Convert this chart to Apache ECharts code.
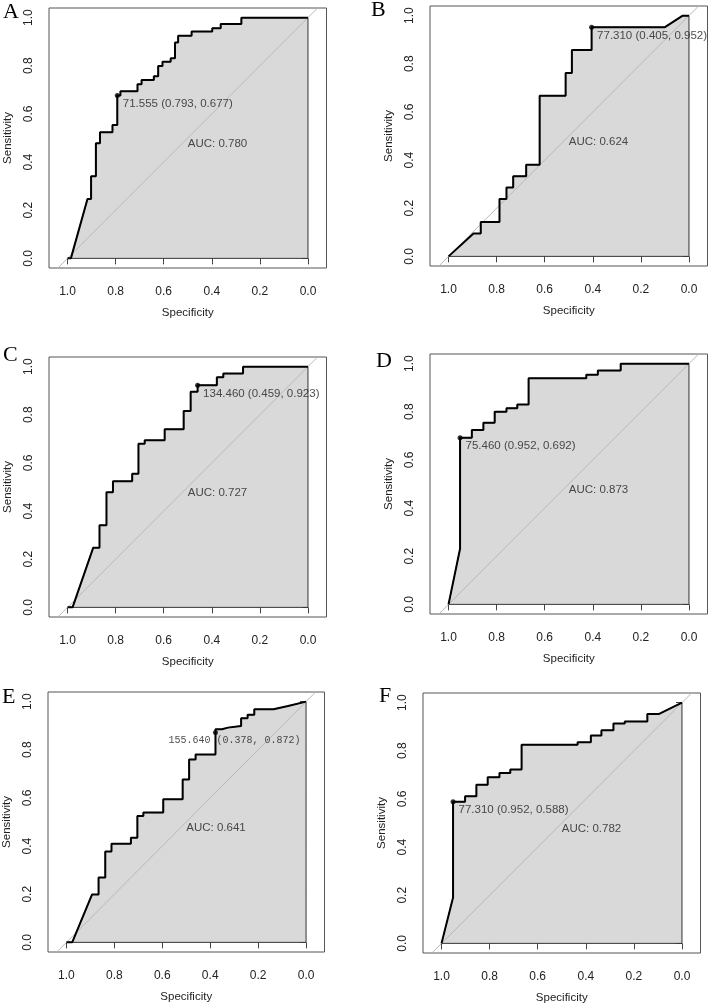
<!DOCTYPE html>
<html><head><meta charset="utf-8">
<script src="https://cdn.jsdelivr.net/npm/echarts@6/dist/echarts.min.js"></script>
<style>html,body{margin:0;padding:0;background:#fff}#c{width:709px;height:1005px}</style>
</head><body><div id="c"></div>
<script>
// ---------- data ----------
const panelLetters = ['A', 'B', 'C', 'D', 'E', 'F'];
const tickValues = [0, 0.2, 0.4, 0.6, 0.8, 1.0];

const specA = [1.0, 0.986, 0.917, 0.902, 0.902, 0.882, 0.882, 0.865, 0.865, 0.813, 0.813, 0.793, 0.793, 0.780, 0.780, 0.709, 0.709, 0.692, 0.692, 0.641, 0.641, 0.623, 0.623, 0.605, 0.605, 0.571, 0.571, 0.553, 0.553, 0.540, 0.540, 0.484, 0.484, 0.398, 0.398, 0.363, 0.363, 0.277, 0.277, 0.0];
const sensA = [0.0, 0.0, 0.247, 0.247, 0.341, 0.341, 0.478, 0.478, 0.524, 0.524, 0.554, 0.554, 0.677, 0.677, 0.694, 0.694, 0.723, 0.723, 0.741, 0.741, 0.756, 0.756, 0.799, 0.799, 0.817, 0.817, 0.831, 0.831, 0.897, 0.897, 0.925, 0.925, 0.942, 0.942, 0.956, 0.956, 0.974, 0.974, 1.0, 1.0];

const specB = [1.0, 0.896, 0.866, 0.866, 0.788, 0.788, 0.759, 0.759, 0.731, 0.731, 0.677, 0.677, 0.621, 0.621, 0.513, 0.513, 0.487, 0.487, 0.405, 0.405, 0.100, 0.026, 0.0];
const sensB = [0.0, 0.095, 0.095, 0.143, 0.143, 0.238, 0.238, 0.286, 0.286, 0.333, 0.333, 0.381, 0.381, 0.667, 0.667, 0.762, 0.762, 0.857, 0.857, 0.952, 0.952, 1.0, 1.0];

const specC = [1.0, 0.979, 0.893, 0.867, 0.867, 0.838, 0.838, 0.811, 0.811, 0.731, 0.731, 0.705, 0.705, 0.679, 0.679, 0.596, 0.596, 0.517, 0.517, 0.488, 0.488, 0.459, 0.459, 0.379, 0.379, 0.352, 0.352, 0.270, 0.270, 0.0];
const sensC = [0.0, 0.0, 0.248, 0.248, 0.341, 0.341, 0.478, 0.478, 0.524, 0.524, 0.555, 0.555, 0.680, 0.680, 0.694, 0.694, 0.740, 0.740, 0.816, 0.816, 0.896, 0.896, 0.923, 0.923, 0.956, 0.956, 0.971, 0.971, 1.0, 1.0];

const specD = [1.0, 0.952, 0.952, 0.903, 0.903, 0.855, 0.855, 0.808, 0.808, 0.759, 0.759, 0.714, 0.714, 0.667, 0.667, 0.427, 0.427, 0.379, 0.379, 0.284, 0.284, 0.0];
const sensD = [0.0, 0.231, 0.692, 0.692, 0.724, 0.724, 0.754, 0.754, 0.800, 0.800, 0.815, 0.815, 0.830, 0.830, 0.939, 0.939, 0.954, 0.954, 0.971, 0.971, 1.0, 1.0];

const specE = [1.0, 0.976, 0.893, 0.866, 0.866, 0.838, 0.838, 0.812, 0.812, 0.731, 0.731, 0.704, 0.704, 0.679, 0.679, 0.596, 0.596, 0.515, 0.515, 0.488, 0.488, 0.461, 0.461, 0.378, 0.378, 0.351, 0.351, 0.326, 0.326, 0.271, 0.271, 0.244, 0.244, 0.216, 0.216, 0.136, 0.136, 0.075, 0.0];
const sensE = [0.0, 0.0, 0.199, 0.199, 0.269, 0.269, 0.377, 0.377, 0.410, 0.410, 0.435, 0.435, 0.525, 0.525, 0.539, 0.539, 0.594, 0.594, 0.677, 0.677, 0.760, 0.760, 0.780, 0.780, 0.885, 0.885, 0.892, 0.892, 0.899, 0.899, 0.931, 0.931, 0.945, 0.945, 0.968, 0.968, 0.975, 0.982, 1.0];

const specF = [1.0, 0.952, 0.952, 0.902, 0.902, 0.855, 0.855, 0.808, 0.808, 0.759, 0.759, 0.714, 0.714, 0.667, 0.667, 0.434, 0.434, 0.379, 0.379, 0.335, 0.335, 0.285, 0.285, 0.238, 0.238, 0.144, 0.144, 0.095, 0.095, 0.0];
const sensF = [0.0, 0.191, 0.588, 0.588, 0.611, 0.611, 0.659, 0.659, 0.690, 0.690, 0.708, 0.708, 0.722, 0.722, 0.825, 0.825, 0.835, 0.835, 0.863, 0.863, 0.885, 0.885, 0.913, 0.913, 0.922, 0.922, 0.953, 0.953, 0.961, 1.0];

const thresholdSpec = [0.793, 0.405, 0.459, 0.952, 0.378, 0.952];
const thresholdSens = [0.677, 0.952, 0.923, 0.692, 0.872, 0.588];
const thresholdLabels = ['71.555 (0.793, 0.677)', '77.310 (0.405, 0.952)', '134.460 (0.459, 0.923)', '75.460 (0.952, 0.692)', '155.640 (0.378, 0.872)', '77.310 (0.952, 0.588)'];
const aucLabels = ['AUC: 0.780', 'AUC: 0.624', 'AUC: 0.727', 'AUC: 0.873', 'AUC: 0.641', 'AUC: 0.782'];
const aucPosSpec = 0.5, aucPosSens = 0.5;

// ---------- layout ----------
const specs = [specA, specB, specC, specD, specE, specF];
const senss = [sensA, sensB, sensC, sensD, sensE, sensF];
const boxes = [
  {left: 49, top: 8}, {left: 430, top: 6},
  {left: 49, top: 357}, {left: 430, top: 354},
  {left: 47, top: 692}, {left: 423, top: 693}
];
const letterPos = [
  {left: 3, top: 1}, {left: 371, top: -1},
  {left: 3, top: 344}, {left: 376, top: 350},
  {left: 2, top: 686}, {left: 379, top: 685}
];
const FONT = '"Liberation Sans", Arial, sans-serif';
const BOXW = 277.5, BOXH = 260;

const grids = [], xAxes = [], yAxes = [], series = [], titles = [];
for (let i = 0; i < 6; i++) {
  grids.push({left: boxes[i].left, top: boxes[i].top, width: BOXW, height: BOXH,
    show: true, borderColor: '#555', borderWidth: 1, backgroundColor: 'transparent'});
  xAxes.push({
    type: 'value', gridIndex: i, min: -0.077, max: 1.077, inverse: true,
    axisLine: {show: false}, splitLine: {show: false},
    axisTick: {show: true, length: 6, inside: false, customValues: tickValues, lineStyle: {color: '#444', width: 1}},
    axisLabel: {customValues: tickValues, formatter: v => v.toFixed(1), fontSize: 12, color: '#222', margin: 18, fontFamily: FONT},
    name: 'Specificity', nameLocation: 'middle', nameGap: 39,
    nameTextStyle: {fontSize: 11.5, color: '#222', fontFamily: FONT}
  });
  yAxes.push({
    type: 'value', gridIndex: i, min: -0.04, max: 1.04,
    axisLine: {show: false}, splitLine: {show: false},
    axisTick: {show: true, length: 6, inside: false, customValues: tickValues, lineStyle: {color: '#444', width: 1}},
    axisLabel: {customValues: tickValues, formatter: v => v.toFixed(1), fontSize: 12, color: '#222', margin: 14, rotate: 90, fontFamily: FONT},
    name: 'Sensitivity', nameLocation: 'middle', nameGap: 35,
    nameTextStyle: {fontSize: 11.5, color: '#222', fontFamily: FONT}
  });
  const pts = specs[i].map((s, k) => [s, senss[i][k]]);
  series.push({
    type: 'line', xAxisIndex: i, yAxisIndex: i, silent: true, symbol: 'none', z: 2,
    data: pts.concat([[0, 0], [1, 0]]),
    lineStyle: {color: '#333', width: 1},
    areaStyle: {color: '#d9d9d9', opacity: 1}
  });
  series.push({
    type: 'line', xAxisIndex: i, yAxisIndex: i, silent: true, symbol: 'none', z: 3, clip: true,
    data: [[1.2, -0.2], [-0.2, 1.2]],
    lineStyle: {color: '#b8b8b8', width: 1}
  });
  series.push({
    type: 'line', xAxisIndex: i, yAxisIndex: i, silent: true, symbol: 'none', z: 4,
    data: pts, lineStyle: {color: '#000', width: 2}
  });
  const isE = i === 4;
  series.push({
    type: 'scatter', xAxisIndex: i, yAxisIndex: i, silent: true, z: 5,
    symbolSize: 5, itemStyle: {color: '#000'},
    data: [[thresholdSpec[i], thresholdSens[i]]],
    label: {show: true, position: 'right', distance: 3, offset: isE ? [-52.5, 8] : [0, 8.5],
      formatter: thresholdLabels[i],
      fontSize: isE ? 10 : 11.5, color: '#222',
      fontFamily: isE ? '"Liberation Mono", "DejaVu Sans Mono", monospace' : FONT}
  });
  series.push({
    type: 'scatter', xAxisIndex: i, yAxisIndex: i, silent: true, z: 5,
    symbolSize: 0.1, itemStyle: {color: 'rgba(0,0,0,0)'},
    data: [[aucPosSpec, aucPosSens]],
    label: {show: true, position: 'right', distance: 0, offset: [0, 6], formatter: aucLabels[i],
      fontSize: 11.5, color: '#222', fontFamily: FONT}
  });
  titles.push({text: panelLetters[i], left: letterPos[i].left, top: letterPos[i].top, padding: 0,
    textStyle: {fontFamily: '"Liberation Serif", "Times New Roman", serif', fontSize: 22, fontWeight: 'normal', color: '#000'}});
}

const chart = echarts.init(document.getElementById('c'), null, {renderer: 'canvas'});
chart.setOption({animation: false, backgroundColor: '#fff', title: titles, grid: grids, xAxis: xAxes, yAxis: yAxes, series: series});
</script></body></html>
